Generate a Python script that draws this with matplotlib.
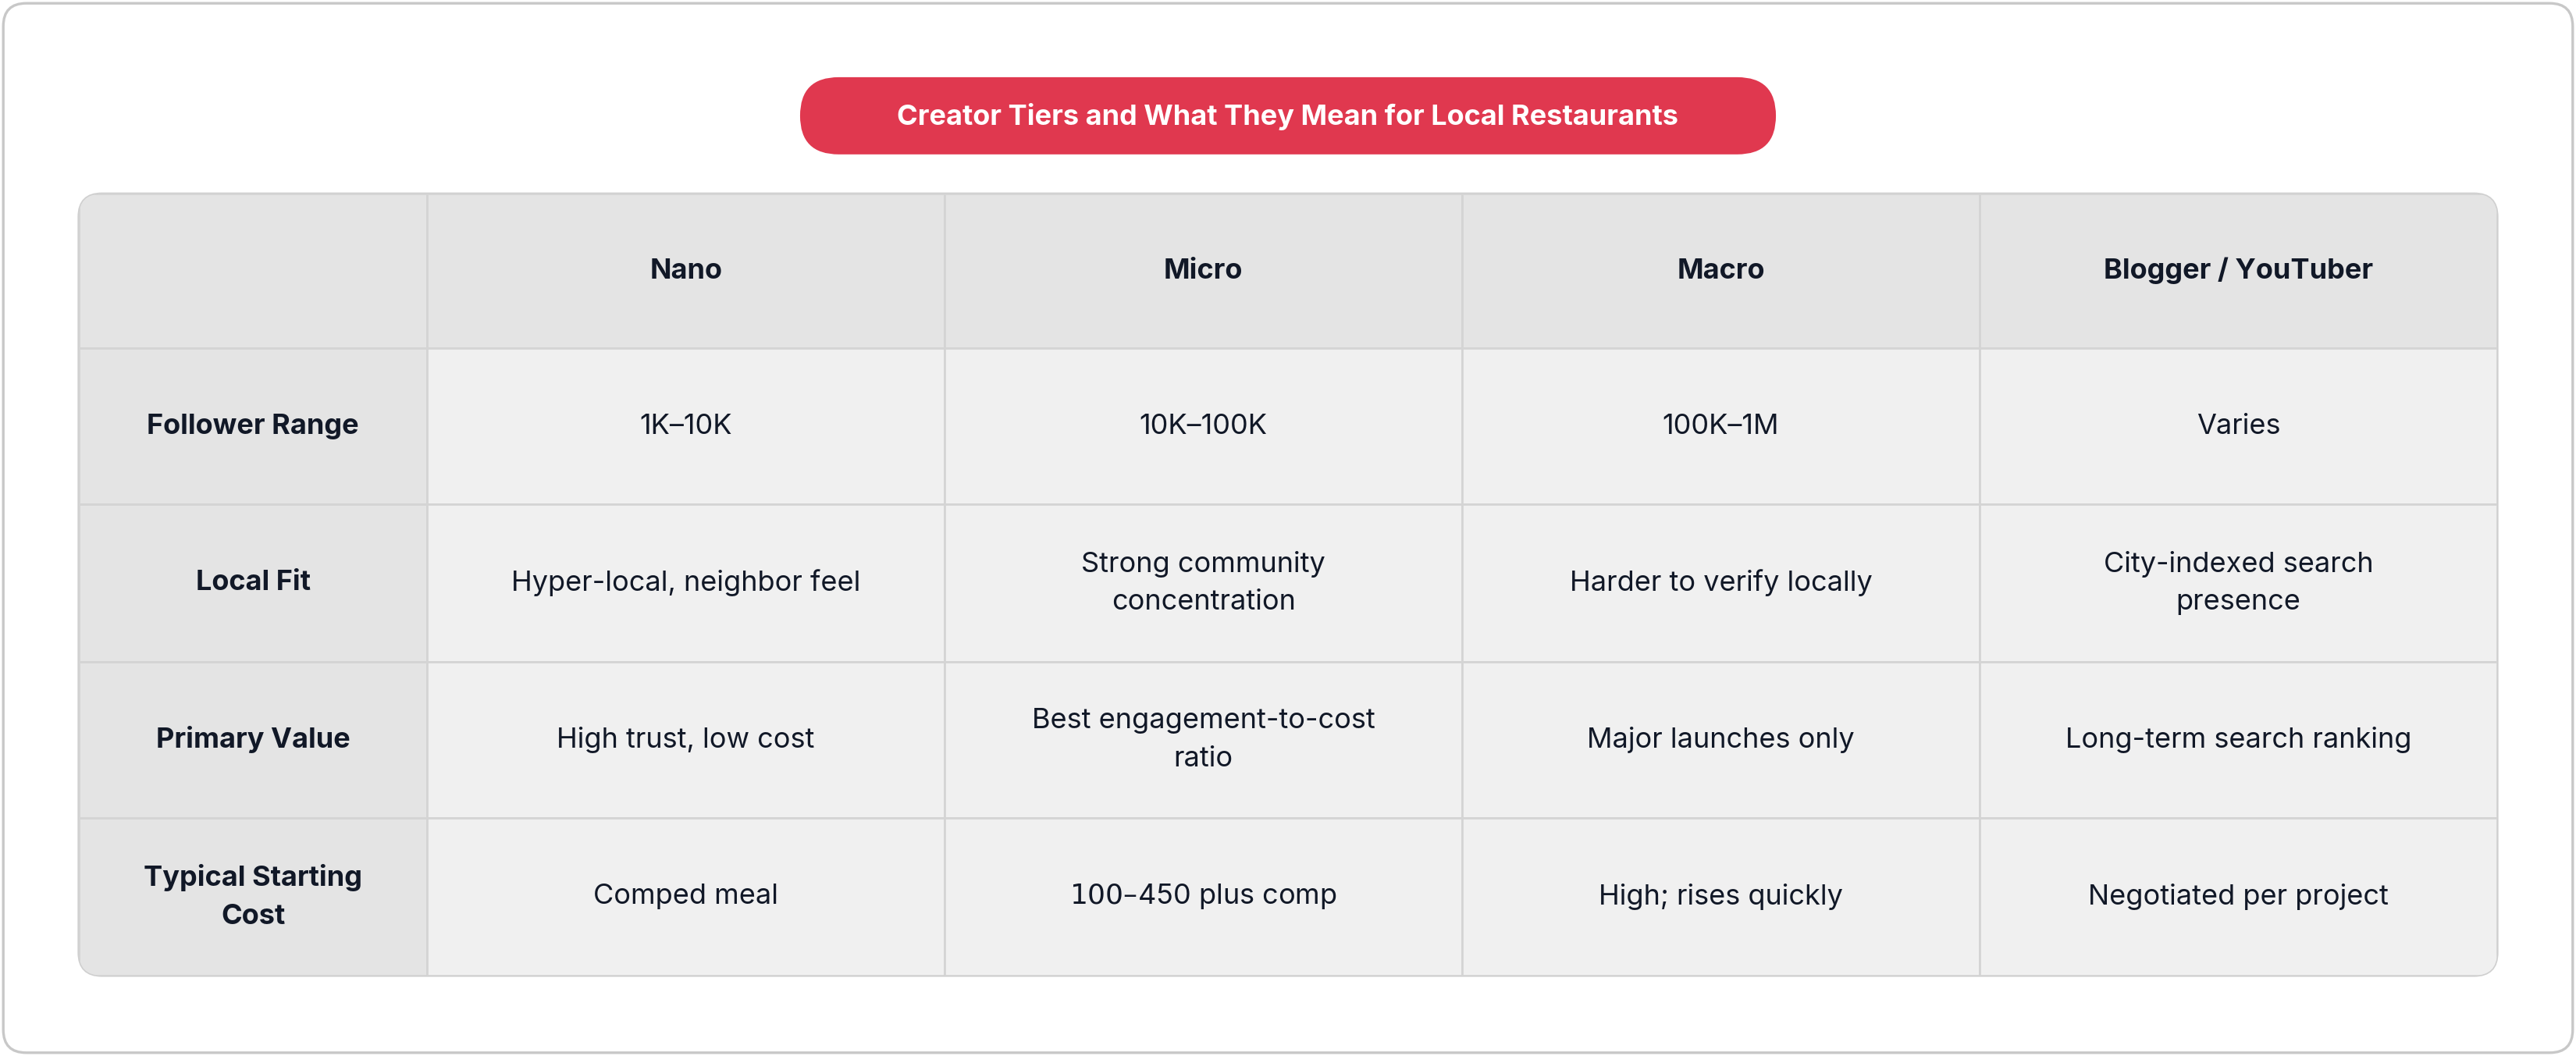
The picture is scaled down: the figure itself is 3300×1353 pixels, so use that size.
import matplotlib.pyplot as plt
from matplotlib.patches import FancyBboxPatch, Rectangle

plt.rcParams['font.family'] = ['Inter', 'DejaVu Sans']

title = "Creator Tiers and What They Mean for Local Restaurants"
columns = ["Nano", "Micro", "Macro", "Blogger / YouTuber"]
rows = ["Follower Range", "Local Fit", "Primary Value", "Typical Starting\nCost"]
cells = [
    ["1K\u201310K", "10K\u2013100K", "100K\u20131M", "Varies"],
    ["Hyper-local, neighbor feel", "Strong community\nconcentration", "Harder to verify locally", "City-indexed search\npresence"],
    ["High trust, low cost", "Best engagement-to-cost\nratio", "Major launches only", "Long-term search ranking"],
    ["Comped meal", "$100\u2013$450 plus comp", "High; rises quickly", "Negotiated per project"],
]

W, H = 1568, 643
fig = plt.figure(figsize=(16.5, 6.765), dpi=200)
ax = fig.add_axes([0, 0, 1, 1])
ax.set_xlim(0, W)
ax.set_ylim(H, 0)
ax.axis('off')

# outer card
ax.add_patch(FancyBboxPatch((2, 2), W - 4, H - 4, boxstyle="round,pad=0,rounding_size=14",
                            fc='white', ec='#c8c8c8', lw=1.2))

# title pill
ax.add_patch(FancyBboxPatch((487, 47), 594, 47, boxstyle="round,pad=0,rounding_size=23.5",
                            fc='#e0384f', ec='none'))
ax.text(784, 71, title, color='white', fontsize=13, fontweight='bold', ha='center', va='center')

xs = [48, 260, 575, 890, 1205, 1520]
ys = [118, 212, 307, 403, 498, 594]
clip = FancyBboxPatch((xs[0], ys[0]), xs[-1] - xs[0], ys[-1] - ys[0],
                      boxstyle="round,pad=0,rounding_size=14", fc='none', ec='#cfcfcf', lw=1.2)
ax.add_patch(clip)

dark = '#111827'
for r in range(len(ys) - 1):
    for c in range(len(xs) - 1):
        fc = '#e4e4e4' if (r == 0 or c == 0) else '#f0f0f0'
        rect = Rectangle((xs[c], ys[r]), xs[c + 1] - xs[c], ys[r + 1] - ys[r],
                         fc=fc, ec='#d4d4d4', lw=1.0)
        ax.add_patch(rect)
        rect.set_clip_path(clip)
        cx = (xs[c] + xs[c + 1]) / 2
        cy = (ys[r] + ys[r + 1]) / 2
        if r == 0 and c > 0:
            ax.text(cx, cy, columns[c - 1], ha='center', va='center', fontsize=13,
                    fontweight='bold', color=dark)
        elif r > 0 and c == 0:
            ax.text(cx, cy, rows[r - 1], ha='center', va='center', fontsize=13,
                    fontweight='bold', color=dark, linespacing=1.6)
        elif r > 0:
            ax.text(cx, cy, cells[r - 1][c - 1], ha='center', va='center', fontsize=13,
                    color=dark, linespacing=1.6)

fig.savefig('out.png', dpi=200)
